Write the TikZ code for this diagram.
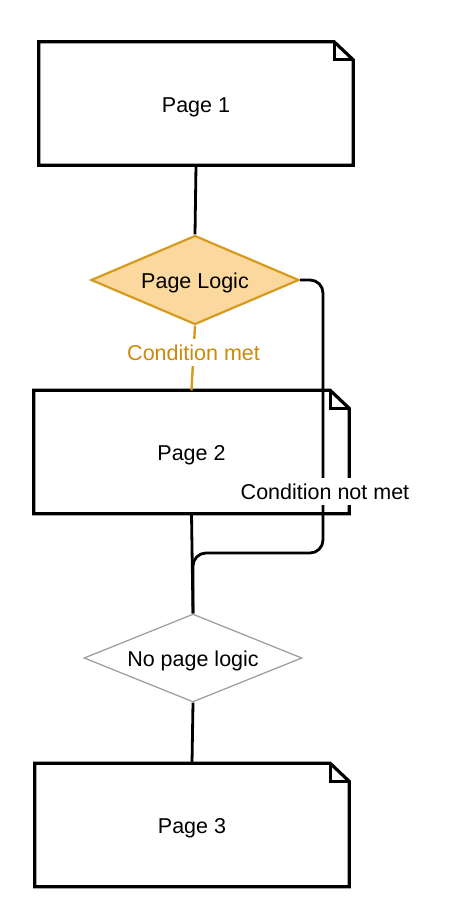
\documentclass[tikz,border=0pt]{standalone}
\usepackage{fontspec}
\setmainfont{Liberation Sans}
\usetikzlibrary{shapes.geometric}
\definecolor{logicfill}{HTML}{FBD99E}
\definecolor{logicdraw}{HTML}{D69A1E}
\definecolor{logictext}{HTML}{CC8A0A}
\definecolor{nologic}{HTML}{A0A0A0}
\tikzset{
  x=1pt, y=1pt,
  every node/.style={font=\fontsize{21.5}{25}\selectfont, inner sep=0pt, text height=21pt, text depth=4pt},
  pagebox/.style={rectangle, fill=white, minimum width=#1, minimum height=123},
  pageline/.style={line width=3.2pt, line join=miter},
  conn/.style={line width=2.8pt, black},
  logic/.style={diamond, aspect=2.33, minimum width=208, minimum height=89, fill=logicfill, draw=logicdraw, line width=2.2pt},
  nolog/.style={diamond, aspect=2.5, minimum width=218, minimum height=88, fill=white, draw=nologic, line width=1.3pt},
  lbl/.style={fill=white, inner sep=1pt}
}
\newcommand{\pageoutline}[1]{%
  \draw[pageline] (#1.north west) -- ([xshift=-19]#1.north east) -- ([yshift=-18]#1.north east) -- (#1.south east) -- (#1.south west) -- cycle;
  \draw[pageline] ([xshift=-19]#1.north east) -- ([xshift=-19,yshift=-18]#1.north east) -- ([yshift=-18]#1.north east);
}
\begin{document}
\begin{tikzpicture}
\useasboundingbox (0,0) rectangle (452,-922);
% pages
\node[pagebox=314] (p1) at (196,-103.5) {Page 1};
\pageoutline{p1}
\node[pagebox=315] (p2) at (191.5,-452) {Page 2};
\pageoutline{p2}
\node[pagebox=314] (p3) at (192,-825) {Page 3};
\pageoutline{p3}
% diamonds
\node[logic] (d1) at (195,-280) {Page Logic};
\node[nolog] (d2) at (193,-658) {No page logic};
% connectors
\draw[conn] (p1.south) -- (d1.north);
\draw[conn] (p2.south) -- (d2.north);
\draw[conn] (d2.south) -- (p3.north);
\coordinate (c1) at (323,-280);
\coordinate (c2) at (323,-553);
\coordinate (c3) at (193,-553);
\draw[conn, rounded corners=13] (d1.east) -- (c1) -- (c2) -- (c3) -- (d2.north);
\draw[line width=2.4pt, logicdraw] (d1.south) -- (p2.north)
  node[pos=0.41, lbl, text=logictext] {Condition met};
\node[lbl] (nm) at (325,-491) {Condition not met};
\end{tikzpicture}
\end{document}
